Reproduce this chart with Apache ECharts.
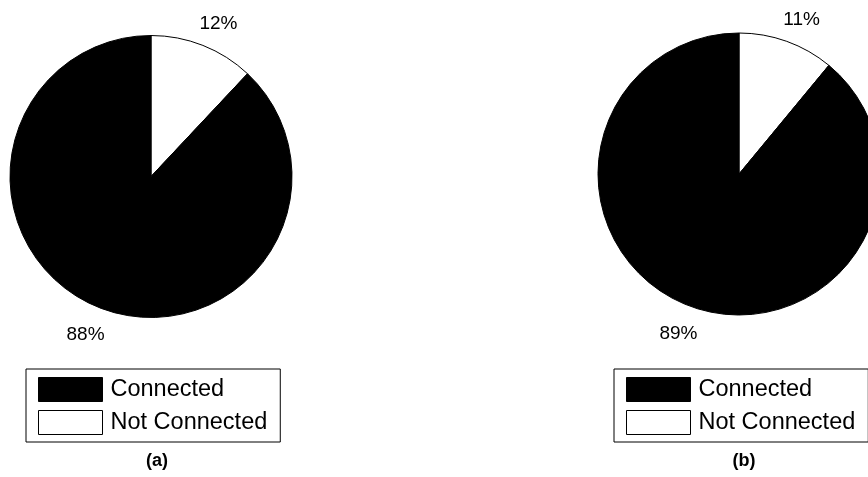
<!DOCTYPE html>
<html>
<head>
<meta charset="utf-8">
<script src="https://cdn.jsdelivr.net/npm/echarts@6/dist/echarts.min.js"></script>
<style>
html,body{margin:0;padding:0;background:#fff;}
#chart{width:868px;height:477px;}
</style>
</head>
<body>
<div id="chart"></div>
<script>
// Data
const categories = ['Connected', 'Not Connected'];
const panelTitles = ['(a)', '(b)'];
const valuesA = [88, 12]; // Connected, Not Connected
const valuesB = [89, 11];
const sliceColors = ['#000000', '#ffffff'];

const FONT = 'Liberation Sans, Arial, sans-serif';

function pieSeries(values, center) {
  // draw Not Connected first (clockwise from top), then Connected
  const data = [
    { name: categories[1], value: values[1], itemStyle: { color: sliceColors[1] } },
    { name: categories[0], value: values[0], itemStyle: { color: sliceColors[0] } }
  ];
  return {
    type: 'pie',
    center: center,
    radius: 141,
    startAngle: 90,
    clockwise: true,
    animation: false,
    silent: true,
    data: data,
    itemStyle: { borderColor: '#000', borderWidth: 1 },
    label: {
      show: true,
      position: 'outside',
      formatter: '{c}%',
      color: '#000',
      fontFamily: FONT,
      fontSize: 19
    },
    labelLine: { show: false, length: 26, length2: 0 },
    labelLayout: function () { return { align: 'center', dy: 3, dx: 1 }; }
  };
}

function legendCfg(left, seriesIndex) {
  return {
    seriesIndex: seriesIndex,
    data: categories,
    orient: 'vertical',
    left: left,
    top: 369,
    padding: [8, 13, 7, 12],
    itemGap: 8,
    itemWidth: 64,
    itemHeight: 24,
    icon: 'rect',
    borderColor: '#000',
    borderWidth: 1,
    borderRadius: 0,
    selectedMode: false,
    itemStyle: { borderColor: '#000', borderWidth: 1 },
    textStyle: { fontFamily: FONT, fontSize: 23.5, color: '#000', padding: [0, 0, 0, 3] }
  };
}

const chart = echarts.init(document.getElementById('chart'), null, { renderer: 'canvas' });
chart.setOption({
  backgroundColor: '#fff',
  animation: false,
  title: [
    { text: panelTitles[0], left: 152, top: 447, textAlign: 'center',
      textStyle: { fontFamily: FONT, fontSize: 18, fontWeight: 'bold', color: '#000' } },
    { text: panelTitles[1], left: 739, top: 447, textAlign: 'center',
      textStyle: { fontFamily: FONT, fontSize: 18, fontWeight: 'bold', color: '#000' } }
  ],
  legend: [legendCfg(26, 0), legendCfg(614, 1)],
  series: [
    pieSeries(valuesA, [151, 176.5]),
    pieSeries(valuesB, [739, 174])
  ]
});
</script>
</body>
</html>
